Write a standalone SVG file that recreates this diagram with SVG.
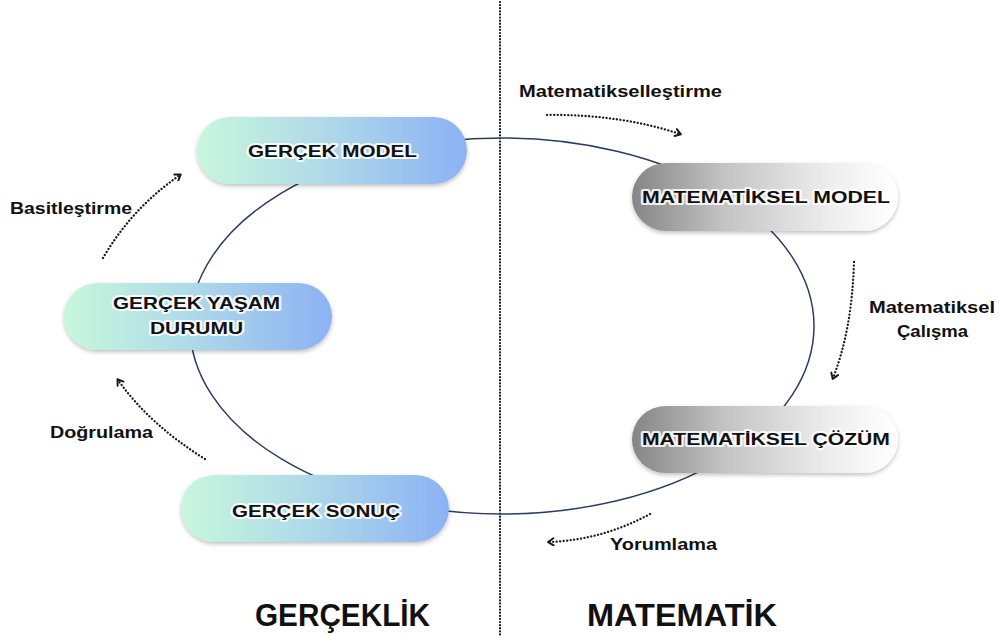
<svg xmlns="http://www.w3.org/2000/svg" width="1000" height="637" viewBox="0 0 1000 637">
<defs>
<linearGradient id="gBlue" x1="0" y1="0" x2="1" y2="0">
<stop offset="0" stop-color="#c8f7dc"/>
<stop offset="0.45" stop-color="#b0dbe8"/>
<stop offset="1" stop-color="#8cb2f4"/>
</linearGradient>
<linearGradient id="gGray" x1="0" y1="0" x2="1" y2="0">
<stop offset="0" stop-color="#858585"/>
<stop offset="0.35" stop-color="#c4c4c4"/>
<stop offset="0.75" stop-color="#eeeeee"/>
<stop offset="1" stop-color="#ffffff"/>
</linearGradient>
<filter id="sh" x="-10%" y="-20%" width="120%" height="150%">
<feDropShadow dx="0" dy="2" stdDeviation="2" flood-color="#000" flood-opacity="0.25"/>
</filter>
<marker id="ah" viewBox="0 0 10 10" refX="7" refY="5" markerWidth="9" markerHeight="9" markerUnits="userSpaceOnUse" orient="auto">
<path d="M2,1 L8,5 L2,9" fill="none" stroke="#1a1a1a" stroke-width="2.2" stroke-linecap="round" stroke-linejoin="round"/>
</marker>
<style>
.nt{font-family:"Liberation Sans",Arial,sans-serif;font-weight:bold;font-size:16.5px;fill:#111;stroke:#fff;stroke-width:4;stroke-opacity:0.85;paint-order:stroke;stroke-linejoin:round}
.lb{font-family:"Liberation Sans",Arial,sans-serif;font-weight:bold;font-size:16px;fill:#111}
.big{font-family:"Liberation Sans",Arial,sans-serif;font-weight:bold;font-size:32px;fill:#111}
.dot{fill:none;stroke:#1a1a1a;stroke-width:2.2;stroke-dasharray:0.1 3;stroke-linecap:round}
.arr{fill:none;stroke:#1a1a1a;stroke-width:2.3;stroke-dasharray:0.1 3.4;stroke-linecap:round}
</style>
</defs>
<rect width="1000" height="637" fill="#fff"/>
<line class="dot" x1="500" y1="2" x2="500" y2="636"/>
<g id="connectors">
<ellipse cx="502" cy="326" rx="312" ry="188" fill="none" stroke="#2b3d5e" stroke-width="1.5"/>
<path class="arr" d="M547,115 Q620,114 680,134" marker-end="url(#ah)"/>
<path class="arr" d="M103,258 Q132,208 180,175" marker-end="url(#ah)"/>
<path class="arr" d="M854,262 Q852,330 833,378" marker-end="url(#ah)"/>
<path class="arr" d="M205,459 Q150,425 118,380" marker-end="url(#ah)"/>
<path class="arr" d="M650,514 Q602,540 549,542" marker-end="url(#ah)"/>
</g>
<g id="n-gercek-model">
<rect x="197" y="117" width="270" height="67" rx="33.5" fill="url(#gBlue)" filter="url(#sh)"/>
<text class="nt" x="248" y="157" textLength="169" lengthAdjust="spacingAndGlyphs">GERÇEK MODEL</text>
</g>
<g id="n-mat-model">
<rect x="632" y="163" width="266" height="68" rx="34" fill="url(#gGray)" filter="url(#sh)"/>
<text class="nt" x="642" y="203" textLength="248" lengthAdjust="spacingAndGlyphs">MATEMATİKSEL MODEL</text>
</g>
<g id="n-yasam">
<rect x="64" y="283" width="268" height="67" rx="33.5" fill="url(#gBlue)" filter="url(#sh)"/>
<text class="nt" x="113" y="309" textLength="167" lengthAdjust="spacingAndGlyphs">GERÇEK YAŞAM</text>
<text class="nt" x="150" y="334" textLength="93" lengthAdjust="spacingAndGlyphs">DURUMU</text>
</g>
<g id="n-mat-cozum">
<rect x="632" y="406" width="266" height="67" rx="33.5" fill="url(#gGray)" filter="url(#sh)"/>
<text class="nt" x="642" y="445" textLength="248" lengthAdjust="spacingAndGlyphs">MATEMATİKSEL ÇÖZÜM</text>
</g>
<g id="n-sonuc">
<rect x="181" y="475" width="268" height="67" rx="33.5" fill="url(#gBlue)" filter="url(#sh)"/>
<text class="nt" x="232" y="517" textLength="168" lengthAdjust="spacingAndGlyphs">GERÇEK SONUÇ</text>
</g>
<g id="labels">
<text class="lb" x="519" y="97" textLength="203" lengthAdjust="spacingAndGlyphs">Matematikselleştirme</text>
<text class="lb" x="10" y="214" textLength="122" lengthAdjust="spacingAndGlyphs">Basitleştirme</text>
<text class="lb" x="869" y="313" textLength="126" lengthAdjust="spacingAndGlyphs">Matematiksel</text>
<text class="lb" x="897" y="337" textLength="71" lengthAdjust="spacingAndGlyphs">Çalışma</text>
<text class="lb" x="50" y="438" textLength="103" lengthAdjust="spacingAndGlyphs">Doğrulama</text>
<text class="lb" x="610" y="550" textLength="107" lengthAdjust="spacingAndGlyphs">Yorumlama</text>
<text class="big" x="255" y="626" textLength="175" lengthAdjust="spacingAndGlyphs">GERÇEKLİK</text>
<text class="big" x="587" y="626" textLength="190" lengthAdjust="spacingAndGlyphs">MATEMATİK</text>
</g>
</svg>
